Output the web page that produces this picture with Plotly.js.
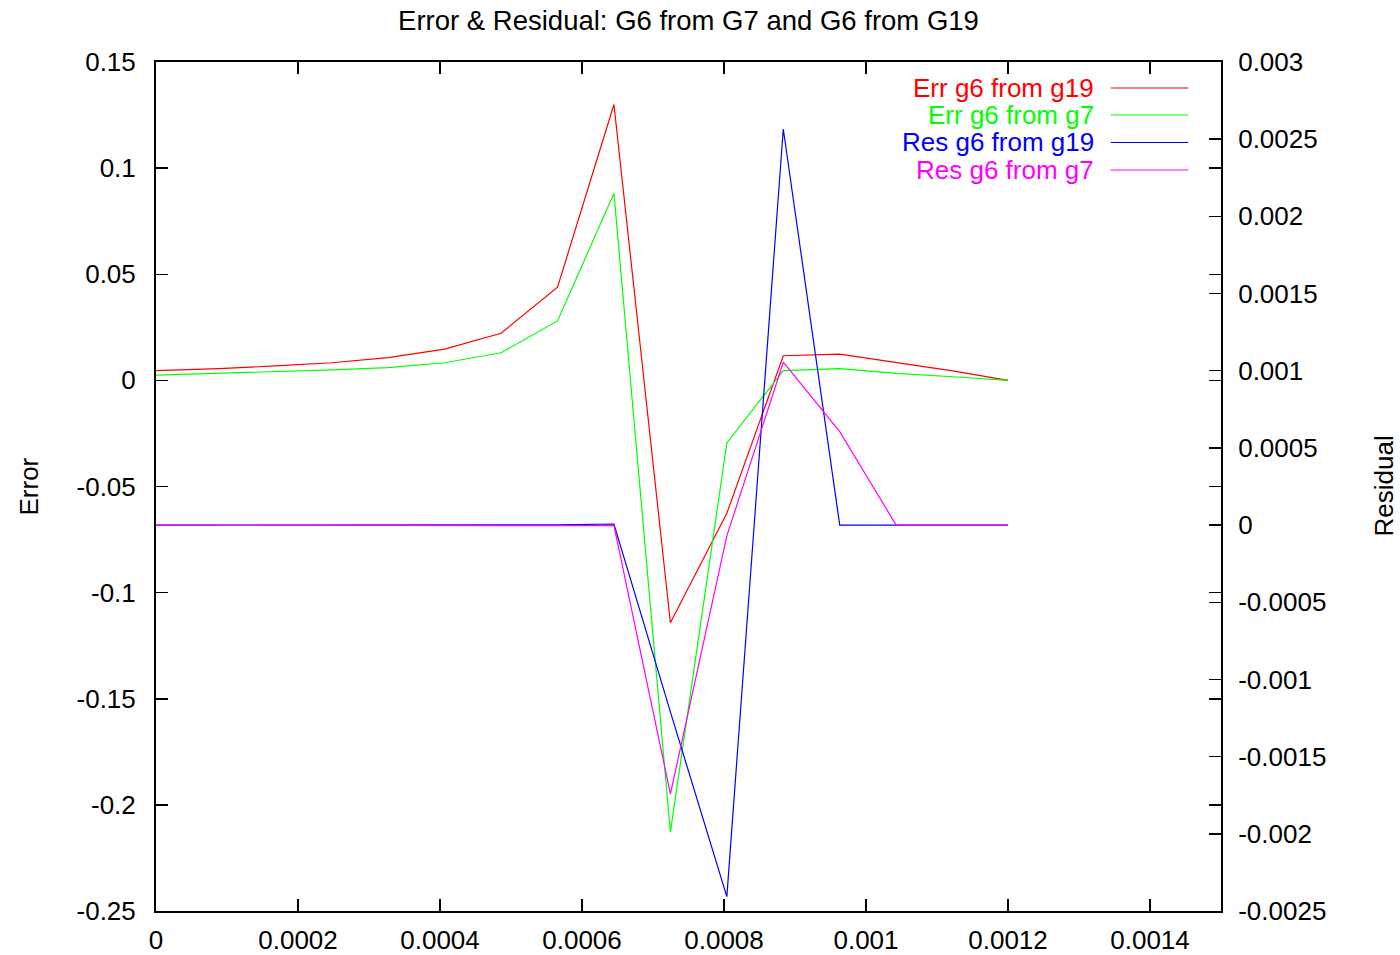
<!DOCTYPE html>
<html>
<head>
<meta charset="utf-8">
<script src="https://cdn.plot.ly/plotly-3.0.1.min.js"></script>
<style>html,body{margin:0;padding:0;background:#fff;}#chart{width:1400px;height:955px;}</style>
</head>
<body>
<div id="chart"></div>
<script>
// ---- data ----
const xValues = [0, 0.0000885, 0.000168, 0.0002475, 0.000327, 0.0004065, 0.000486, 0.0005655,
                 0.000645, 0.0007245, 0.000804, 0.0008835, 0.000963, 0.0010425, 0.001122, 0.0012];
const errG6FromG19 = [0.0046, 0.0055, 0.0068, 0.0083, 0.0107, 0.0147, 0.0222, 0.0439,
                      0.130, -0.1142, -0.0626, 0.0116, 0.0124, 0.0085, 0.0045, 0.0];
const errG6FromG7  = [0.0025, 0.0033, 0.0041, 0.0049, 0.0060, 0.0083, 0.0130, 0.0280,
                      0.0881, -0.2129, -0.0295, 0.0046, 0.0055, 0.0033, 0.0017, 0.0];
const resG6FromG19 = [0, 0, 0, 0, 0, 0, 0, 0.000002,
                      0.000007, -0.00121, -0.002407, 0.002566, 0, 0, 0, 0];
const resG6FromG7  = [0, 0, 0, 0, 0, 0, 0, 0,
                      -0.000004, -0.001742, -0.00007, 0.001055, 0.000605, 0, 0, 0];

const seriesNames = ["Err g6 from g19", "Err g6 from g7", "Res g6 from g19", "Res g6 from g7"];
const seriesColors = ["#ff0000", "#00ff00", "#0000ff", "#ff00ff"];

const xTickVals = [0, 0.0002, 0.0004, 0.0006, 0.0008, 0.001, 0.0012, 0.0014];
const xTickText = ["0", "0.0002", "0.0004", "0.0006", "0.0008", "0.001", "0.0012", "0.0014"];
const yTickVals = [0.15, 0.1, 0.05, 0, -0.05, -0.1, -0.15, -0.2, -0.25];
const yTickText = ["0.15", "0.1", "0.05", "0", "-0.05", "-0.1", "-0.15", "-0.2", "-0.25"];
const y2TickVals = [0.003, 0.0025, 0.002, 0.0015, 0.001, 0.0005, 0, -0.0005, -0.001, -0.0015, -0.002, -0.0025];
const y2TickText = ["0.003", "0.0025", "0.002", "0.0015", "0.001", "0.0005", "0", "-0.0005", "-0.001", "-0.0015", "-0.002", "-0.0025"];

// ---- traces ----
const ys = [errG6FromG19, errG6FromG7, resG6FromG19, resG6FromG7];
const axes = ["y", "y", "y2", "y2"];
const traces = ys.map((yy, i) => ({
  type: "scatter", mode: "lines", x: xValues, y: yy, yaxis: axes[i],
  name: seriesNames[i], line: {color: seriesColors[i], width: 1.2}, showlegend: false
}));

const FONT = "Liberation Sans, Arial, Helvetica, sans-serif";
const FS = 26;
const FS_BIG = 27.5;

// gnuplot-style key: text right-aligned, sample line to its right
const keyRowsY = [0.9694, 0.9376, 0.9052, 0.8728];
const annotations = seriesNames.map((n, i) => ({
  xref: "paper", yref: "paper", x: 0.8826, y: keyRowsY[i], xanchor: "right", yanchor: "middle",
  text: n, showarrow: false, font: {family: FONT, size: 26, color: seriesColors[i]}
}));
const shapes = seriesNames.map((n, i) => ({
  type: "line", xref: "paper", yref: "paper", x0: 0.8964, x1: 0.9693, y0: keyRowsY[i], y1: keyRowsY[i],
  line: {color: seriesColors[i], width: 1.2}
}));
annotations.push({xref: "paper", yref: "paper", x: (28 - 156) / 1065, y: 0.5, textangle: -90,
  xanchor: "center", yanchor: "middle", text: "Error", showarrow: false, font: {family: FONT, size: FS, color: "#000"}});
annotations.push({xref: "paper", yref: "paper", x: (1383 - 156) / 1065, y: 0.5, textangle: -90,
  xanchor: "center", yanchor: "middle", text: "Residual", showarrow: false, font: {family: FONT, size: FS, color: "#000"}});

const axisCommon = {
  showgrid: false, zeroline: false, showline: true, linecolor: "#000", linewidth: 2,
  ticks: "inside", ticklen: 12, tickwidth: 1.5, tickcolor: "#000",
  tickfont: {family: FONT, size: FS, color: "#000"}, automargin: false, tickmode: "array"
};

const layout = {
  width: 1400, height: 955,
  margin: {l: 156, r: 179, t: 62, b: 44},
  paper_bgcolor: "#fff", plot_bgcolor: "#fff",
  font: {family: FONT, size: FS, color: "#000"},
  title: {text: "Error & Residual: G6 from G7 and G6 from G19", x: 0.5, xref: "paper",
          y: 1 - 20 / 955, yref: "container", yanchor: "middle", xanchor: "center",
          font: {family: FONT, size: FS_BIG, color: "#000"}},
  xaxis: Object.assign({}, axisCommon, {range: [0, 0.0015], tickvals: xTickVals, ticktext: xTickText,
          mirror: "ticks", ticklabelstandoff: 5}),
  yaxis: Object.assign({}, axisCommon, {range: [-0.25, 0.15], tickvals: yTickVals, ticktext: yTickText,
          mirror: "ticks", ticklabelstandoff: 13}),
  yaxis2: Object.assign({}, axisCommon, {range: [-0.0025, 0.003], tickvals: y2TickVals, ticktext: y2TickText,
          overlaying: "y", side: "right", ticklabelstandoff: 10}),
  showlegend: false,
  annotations: annotations,
  shapes: shapes
};

Plotly.newPlot("chart", traces, layout, {displayModeBar: false, staticPlot: true});
</script>
</body>
</html>
